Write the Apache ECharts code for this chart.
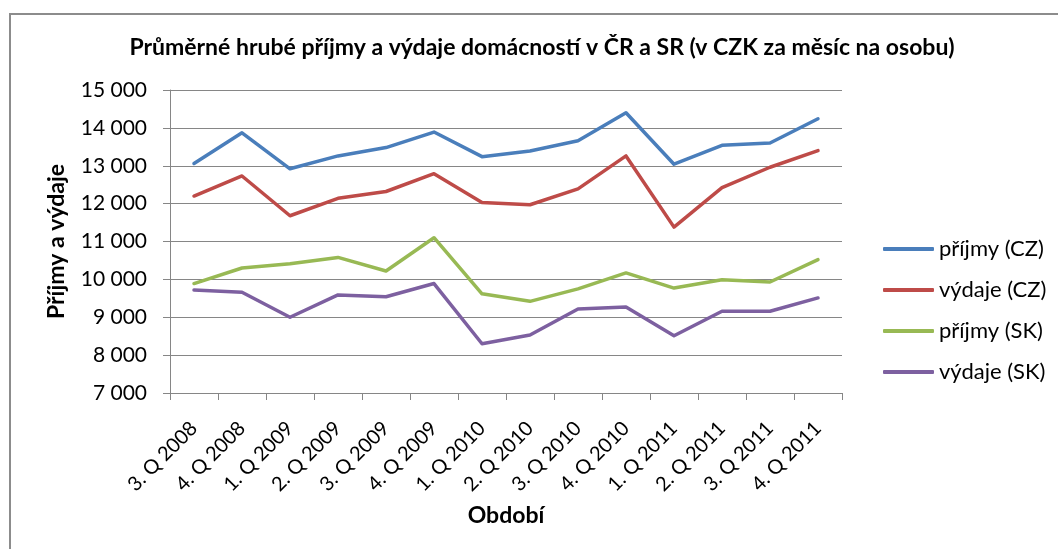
<!DOCTYPE html>
<html>
<head>
<meta charset="utf-8">
<script src="https://cdn.jsdelivr.net/npm/echarts@6/dist/echarts.min.js"></script>
<style>
html,body{margin:0;padding:0;background:#fff;}
#c{width:1058px;height:549px;}
</style>
</head>
<body>
<div id="c"></div>
<script>
const categories = ['3. Q 2008','4. Q 2008','1. Q 2009','2. Q 2009','3. Q 2009','4. Q 2009','1. Q 2010','2. Q 2010','3. Q 2010','4. Q 2010','1. Q 2011','2. Q 2011','3. Q 2011','4. Q 2011'];
const prijmyCZ = [13060, 13870, 12920, 13260, 13480, 13890, 13240, 13390, 13660, 14400, 13040, 13540, 13600, 14240];
const vydajeCZ = [12200, 12730, 11680, 12140, 12320, 12790, 12030, 11970, 12390, 13260, 11380, 12420, 12960, 13400];
const prijmySK = [9890, 10300, 10410, 10580, 10220, 11100, 9620, 9420, 9750, 10170, 9770, 9990, 9930, 10520];
const vydajeSK = [9720, 9660, 9000, 9590, 9540, 9890, 8300, 8530, 9220, 9270, 8510, 9160, 9160, 9510];
const seriesNames = ['příjmy (CZ)', 'výdaje (CZ)', 'příjmy (SK)', 'výdaje (SK)'];
const yTicks = [7000, 15000, 1000];

const colors = ['#4a7ebb', '#be4b48', '#98b954', '#7d60a0'];
const FONT = 'Lato';
const chart = echarts.init(document.getElementById('c'));
const mk = (name, data, i) => ({
  name, type: 'line', data, symbol: 'none', smooth: false,
  lineStyle: { width: 3.5, color: colors[i], cap: 'round', join: 'round' },
  itemStyle: { color: colors[i] }
});
chart.setOption({
  animation: false,
  backgroundColor: '#fff',
  title: {
    text: 'Průměrné hrubé příjmy a výdaje domácností v ČR a SR (v CZK za měsíc na osobu)',
    left: 537, top: 31, textAlign: 'center',
    textStyle: { fontFamily: FONT, fontSize: 23, fontWeight: 'bold', color: '#000' }
  },
  legend: {
    orient: 'vertical', left: 878, top: 233,
    itemWidth: 51, itemHeight: 4, itemGap: 19, itemTextGap: 4,
    icon: 'roundRect',
    textStyle: { fontFamily: FONT, fontSize: 22, color: '#000' },
    data: seriesNames
  },
  grid: { left: 170, right: 216, top: 90, bottom: 156 },
  xAxis: {
    type: 'category', data: categories, boundaryGap: true,
    name: 'Období', nameLocation: 'middle', nameGap: 111,
    nameTextStyle: { fontFamily: FONT, fontSize: 23, fontWeight: 'bold', color: '#000' },
    axisLine: { lineStyle: { color: '#868686', width: 1 } },
    axisTick: { show: true, length: 7, lineStyle: { color: '#868686' } },
    axisLabel: { rotate: 45, margin: 32, fontFamily: FONT, fontSize: 20, color: '#000', interval: 0 }
  },
  yAxis: {
    type: 'value', min: yTicks[0], max: yTicks[1], interval: yTicks[2],
    name: 'Příjmy a výdaje', nameLocation: 'middle', nameGap: 102, nameRotate: 90,
    nameTextStyle: { fontFamily: FONT, fontSize: 23, fontWeight: 'bold', color: '#000' },
    axisLine: { show: true, lineStyle: { color: '#868686', width: 1 } },
    axisTick: { show: true, length: 7, lineStyle: { color: '#868686' } },
    splitLine: { show: true, lineStyle: { color: '#868686', width: 1 } },
    axisLabel: {
      margin: 23, fontFamily: FONT, fontSize: 21, color: '#000',
      formatter: v => String(v).replace(/\B(?=(\d{3})+(?!\d))/g, ' ')
    }
  },
  graphic: [
    { type: 'rect', shape: { x: 9, y: 13, width: 2, height: 540 }, style: { fill: '#8c8c8c' }, silent: true },
    { type: 'rect', shape: { x: 9, y: 13, width: 1060, height: 2 }, style: { fill: '#8c8c8c' }, silent: true }
  ],
  series: [
    mk(seriesNames[0], prijmyCZ, 0),
    mk(seriesNames[1], vydajeCZ, 1),
    mk(seriesNames[2], prijmySK, 2),
    mk(seriesNames[3], vydajeSK, 3)
  ]
});
</script>
</body>
</html>
